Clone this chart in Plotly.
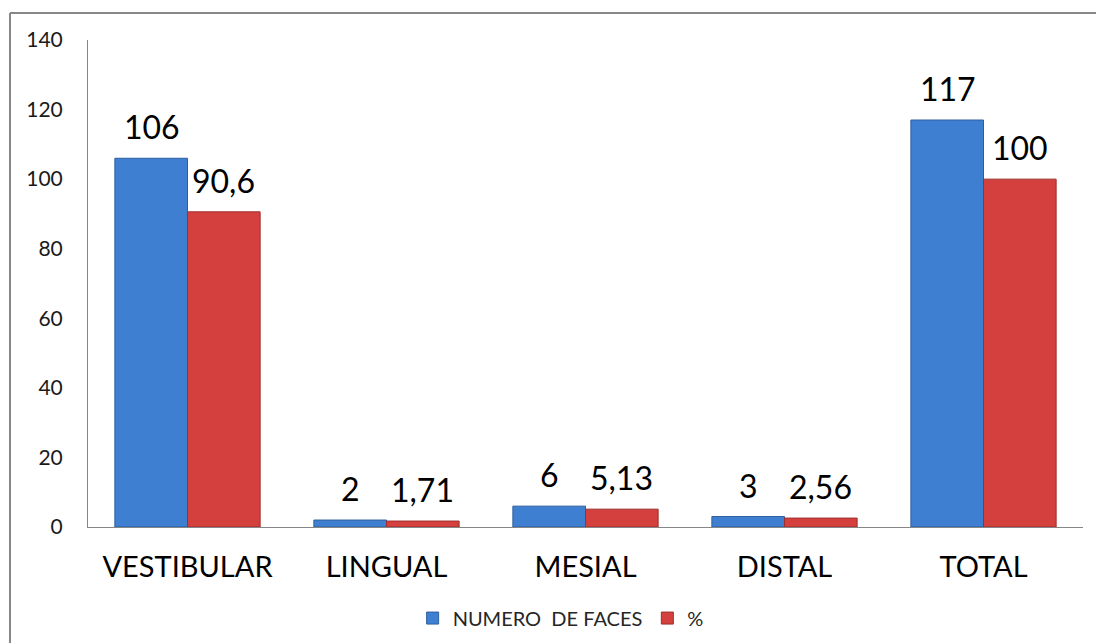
import plotly.graph_objects as go

categories = ["VESTIBULAR", "LINGUAL", "MESIAL", "DISTAL", "TOTAL"]
numero_faces = [106, 2, 6, 3, 117]
porcentaje = [90.6, 1.71, 5.13, 2.56, 100]
numero_labels = ["106", "2", "6", "3", "117"]
porcentaje_labels = ["90,6", "1,71", "5,13", "2,56", "100"]
y_ticks = [0, 20, 40, 60, 80, 100, 120, 140]

FONT = "Lato, 'Open Sans', sans-serif"

fig = go.Figure()
fig.add_trace(go.Bar(
    x=categories, y=numero_faces, name="NUMERO  DE FACES",
    marker=dict(color="#3F7FD1", line=dict(color="#2C5E9E", width=1)),
))
fig.add_trace(go.Bar(
    x=categories, y=porcentaje, name="%",
    marker=dict(color="#D4403E", line=dict(color="#9E2D2B", width=1)),
))

annotations = []
for cat, v, t in zip(categories, numero_faces, numero_labels):
    annotations.append(dict(x=cat, y=v, xref="x", yref="y", text=t, showarrow=False,
                            xshift=-36, yshift=10, yanchor="bottom",
                            font=dict(family=FONT, size=32, color="#000000")))
for cat, v, t in zip(categories, porcentaje, porcentaje_labels):
    annotations.append(dict(x=cat, y=v, xref="x", yref="y", text=t, showarrow=False,
                            xshift=36, yshift=10, yanchor="bottom",
                            font=dict(family=FONT, size=32, color="#000000")))

fig.update_layout(
    width=1096, height=643,
    margin=dict(l=88, r=13, t=40, b=116, autoexpand=False),
    paper_bgcolor="white", plot_bgcolor="white",
    barmode="group", bargap=0.27, bargroupgap=0,
    font=dict(family=FONT, color="#000000"),
    showlegend=True,
    legend=dict(orientation="h", x=0.475, xanchor="center", y=-0.187, yanchor="middle",
                font=dict(family=FONT, size=20, color="#262626"),
                itemwidth=30, traceorder="normal"),
    annotations=annotations,
    shapes=[
        dict(type="line", xref="paper", yref="paper", x0=-0.0784, x1=-0.0784, y0=-0.25, y1=1.0554,
             line=dict(color="#878787", width=2)),
        dict(type="line", xref="paper", yref="paper", x0=-0.0784, x1=1.02, y0=1.0554, y1=1.0554,
             line=dict(color="#878787", width=2)),
    ],
)
fig.update_yaxes(range=[0, 140], tickvals=y_ticks, showgrid=False, zeroline=False,
                 showline=True, linecolor="#868686", linewidth=1, automargin=False,
                 ticks="", ticklabelstandoff=20,
                 tickfont=dict(family=FONT, size=21, color="#1a1a1a"))
fig.update_xaxes(showgrid=False, showline=True, linecolor="#868686", linewidth=1, automargin=False,
                 ticks="", ticklabelstandoff=14,
                 tickfont=dict(family=FONT, size=29, color="#000000"))

fig.write_html("out.html")
